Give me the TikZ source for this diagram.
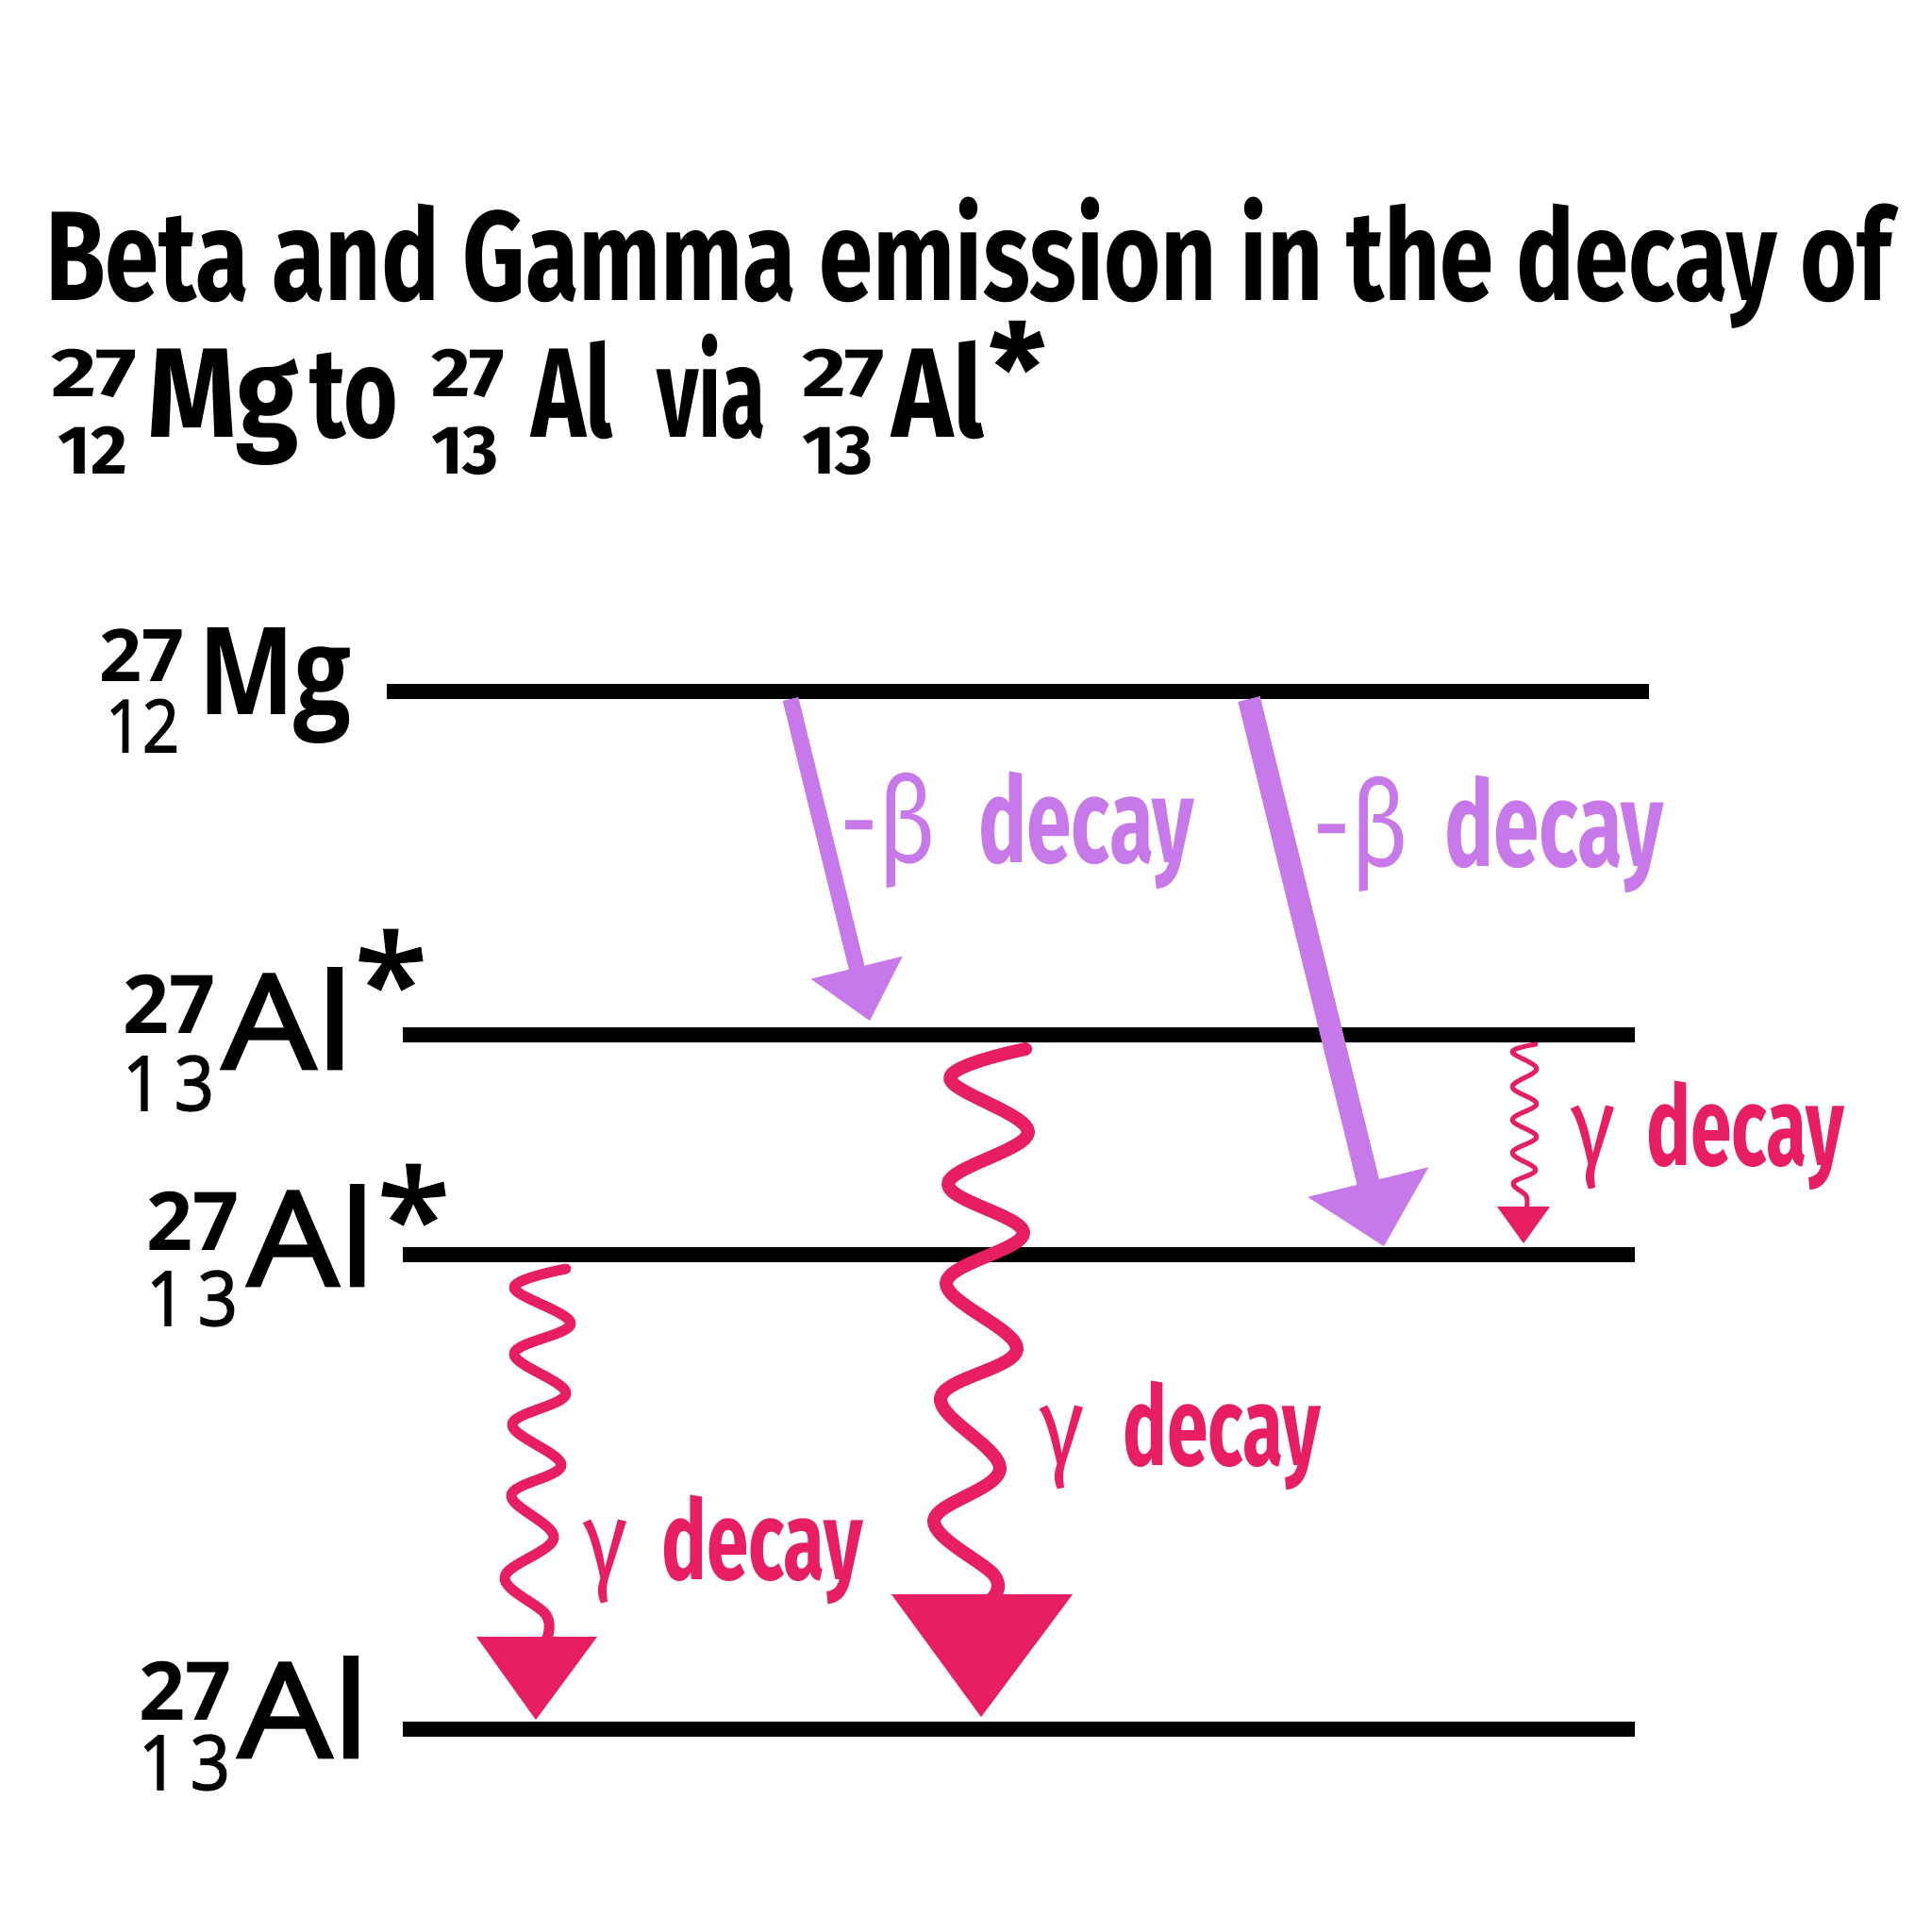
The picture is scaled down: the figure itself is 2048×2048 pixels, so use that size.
\documentclass[tikz,border=0pt]{standalone}
\usepackage{fontspec}
\usepackage{graphicx}
\usetikzlibrary{calc}
\newfontfamily\fira{Fira Sans}
\newfontfamily\opens{Open Sans}
\newfontfamily\opensmed{Open Sans}[FakeBold=2]
\definecolor{betac}{RGB}{199,120,233}
\definecolor{gamc}{RGB}{232,30,99}
\newsavebox\fitbox
\newcommand\fitw[2]{\sbox\fitbox{#2}\pgfmathsetmacro\fitsx{#1/\the\wd\fitbox}\scalebox{\fitsx}[1]{\usebox\fitbox}}
\newcommand\titlef{\fira\bfseries\fontsize{135pt}{160pt}\selectfont}
\newcommand\tnum{\fira\bfseries\fontsize{73pt}{80pt}\selectfont}
\newcommand\decayf[1]{\fira\bfseries\fontsize{#1}{#1}\selectfont}
\newcommand\symf[1]{\fira\fontsize{#1}{#1}\selectfont}
\newcommand\lblb[1]{\opens\bfseries\fontsize{#1}{#1}\selectfont}
\newcommand\lblm[1]{\opensmed\fontsize{#1}{#1}\selectfont}
\tikzset{
  txt/.style={inner sep=0pt, outer sep=0pt, anchor=base west},
  startxt/.style={inner sep=0pt, outer sep=0pt, anchor=north west},
  level/.style={line width=16pt, black},
  betashaft/.style={betac},
  gwave/.style={gamc, line cap=round, line join=round},
  betatxt/.style={txt, text=betac},
  gamtxt/.style={txt, text=gamc},
}
\begin{document}
\begin{tikzpicture}[x=1pt,y=-1pt]
\fill[white] (0,0) rectangle (2048,2048);
\useasboundingbox (0,0) rectangle (2048,2048);

% ---------- title ----------
\node[txt] (t1) at (48,318) {\titlef\fitw{1957}{Beta and Gamma emission in the decay of}};
\node[txt] (t2a) at (54,420) {\tnum\fitw{91}{27}};
\node[txt] (t2b) at (61,502) {\tnum\fitw{74}{12}};
\node[txt] (t2c) at (156,463) {\titlef\fitw{161}{Mg}};
\node[txt] (t2d) at (328,463) {\titlef\fitw{94}{to}};
\node[txt] (t2e) at (457,420) {\tnum\fitw{78}{27}};
\node[txt] (t2f) at (457,502) {\tnum\fitw{72}{13}};
\node[txt] (t2g) at (563,463) {\titlef\fitw{87}{Al}};
\node[txt] (t2h) at (696,463) {\titlef\fitw{116}{via}};
\node[txt] (t2i) at (850,420) {\tnum\fitw{88}{27}};
\node[txt] (t2j) at (850,502) {\tnum\fitw{76}{13}};
\node[txt] (t2k) at (945,463) {\titlef\fitw{98}{Al}};
\node[startxt] (t2l) at (1048,340) {\titlef *};

% ---------- levels ----------
\coordinate (L1a) at (410,733);  \coordinate (L1b) at (1748,733);
\coordinate (L2a) at (427,1097); \coordinate (L2b) at (1733,1097);
\coordinate (L3a) at (427,1330); \coordinate (L3b) at (1733,1330);
\coordinate (L4a) at (427,1833); \coordinate (L4b) at (1733,1833);
\draw[level] (L1a) -- (L1b);
\draw[level] (L2a) -- (L2b);
\draw[level] (L3a) -- (L3b);
\draw[level] (L4a) -- (L4b);

% ---------- level labels ----------
\node[txt] (mgA) at (105,722) {\lblb{77pt}\fitw{90}{27}};
\node[txt] (mgZ) at (112,797) {\lblm{77pt}\fitw{78}{12}};
\node[txt] (mg)  at (210,757) {\lblb{129pt}\fitw{163}{Mg}};

\node[txt] (a1A) at (130,1095) {\lblb{86pt}\fitw{98}{27}};
\node[txt] (a1Z) at (130,1177) {\lblm{80pt}\fitw{97}{1\,3}};
\node[txt] (a1)  at (235,1133) {\lblm{140pt}\fitw{140}{Al}};
\node[startxt] (a1s) at (376,986) {\lblm{140pt}*};

\node[txt] (a2A) at (155,1325) {\lblb{86pt}\fitw{98}{27}};
\node[txt] (a2Z) at (155,1405) {\lblm{80pt}\fitw{97}{1\,3}};
\node[txt] (a2)  at (262,1363) {\lblm{140pt}\fitw{136}{Al}};
\node[startxt] (a2s) at (400,1235) {\lblm{140pt}*};

\node[txt] (a3A) at (147,1823) {\lblb{86pt}\fitw{98}{27}};
\node[txt] (a3Z) at (147,1897) {\lblm{80pt}\fitw{97}{1\,3}};
\node[txt] (a3)  at (252,1863) {\lblm{140pt}\fitw{140}{Al}};

% ---------- beta arrows ----------
\coordinate (b1s) at (838,741);  \coordinate (b1t) at (922,1082);
\coordinate (b1m) at ($(b1t)!58pt!(b1s)$);
\draw[betashaft, line width=17pt] (b1s) -- ($(b1t)!45pt!(b1s)$);
\fill[betac] (b1t) -- ($(b1m)!50pt!90:(b1t)$) -- ($(b1m)!50pt!-90:(b1t)$) -- cycle;

\coordinate (b2s) at (1324,741); \coordinate (b2t) at (1467,1321);
\coordinate (b2m) at ($(b2t)!70pt!(b2s)$);
\draw[betashaft, line width=24pt] (b2s) -- ($(b2t)!52pt!(b2s)$);
\fill[betac] (b2t) -- ($(b2m)!66pt!90:(b2t)$) -- ($(b2m)!66pt!-90:(b2t)$) -- cycle;

% ---------- beta labels ----------
\node[betatxt] (bl1s) at (890,914)  {\symf{127pt}\fitw{102}{-β}};
\node[betatxt] (bl1d) at (1037,914) {\decayf{127pt}\fitw{229}{decay}};
\node[betatxt] (bl2s) at (1391,918) {\symf{127pt}\fitw{102}{-β}};
\node[betatxt] (bl2d) at (1531,918) {\decayf{127pt}\fitw{233}{decay}};

% ---------- gamma: big middle ----------
\coordinate (g1s) at (1087,1112); \coordinate (g1e) at (1052,1694);
\draw[gwave, line width=14pt] plot[smooth, tension=0.6] coordinates {
 (g1s) (1007,1143) (1090,1200) (1005,1255) (1085,1307) (1003,1360)
 (1078,1430) (997,1482) (1060,1557) (990,1612) (1054,1670) (g1e)};
\coordinate (g1t) at (1040,1820);
\fill[gamc] (945,1690) -- (1137,1690) -- (g1t) -- cycle;

% ---------- gamma: left ----------
\coordinate (g2s) at (600,1345); \coordinate (g2e) at (579,1739);
\draw[gwave, line width=11pt] plot[smooth, tension=0.6] coordinates {
 (g2s) (545,1365) (605,1403) (545,1435) (600,1477) (543,1510)
 (595,1553) (542,1585) (587,1630) (535,1672) (579,1712) (g2e)};
\coordinate (g2t) at (568,1823);
\fill[gamc] (505,1735) -- (633,1735) -- (g2t) -- cycle;

% ---------- gamma: small right ----------
\coordinate (g3s) at (1628,1107); \coordinate (g3e) at (1618,1282);
\draw[gwave, line width=5pt] plot[smooth, tension=0.6] coordinates {
 (g3s) (1603,1115) (1629,1133) (1603,1152) (1629,1170) (1603,1187)
 (1629,1205) (1603,1222) (1628,1240) (1604,1254) (1618,1268) (g3e)};
\coordinate (g3t) at (1615,1318);
\fill[gamc] (1587,1279) -- (1643,1279) -- (g3t) -- cycle;

% ---------- gamma labels ----------
\node[gamtxt] (gl3s) at (1665,1235) {\symf{118pt}\fitw{47}{γ}};
\node[gamtxt] (gl3d) at (1745,1235) {\decayf{118pt}\fitw{210}{decay}};
\node[gamtxt] (gl1s) at (1102,1553) {\symf{118pt}\fitw{47}{γ}};
\node[gamtxt] (gl1d) at (1190,1553) {\decayf{118pt}\fitw{210}{decay}};
\node[gamtxt] (gl2s) at (618,1674)  {\symf{118pt}\fitw{47}{γ}};
\node[gamtxt] (gl2d) at (701,1674)  {\decayf{118pt}\fitw{214}{decay}};
\end{tikzpicture}
\end{document}
